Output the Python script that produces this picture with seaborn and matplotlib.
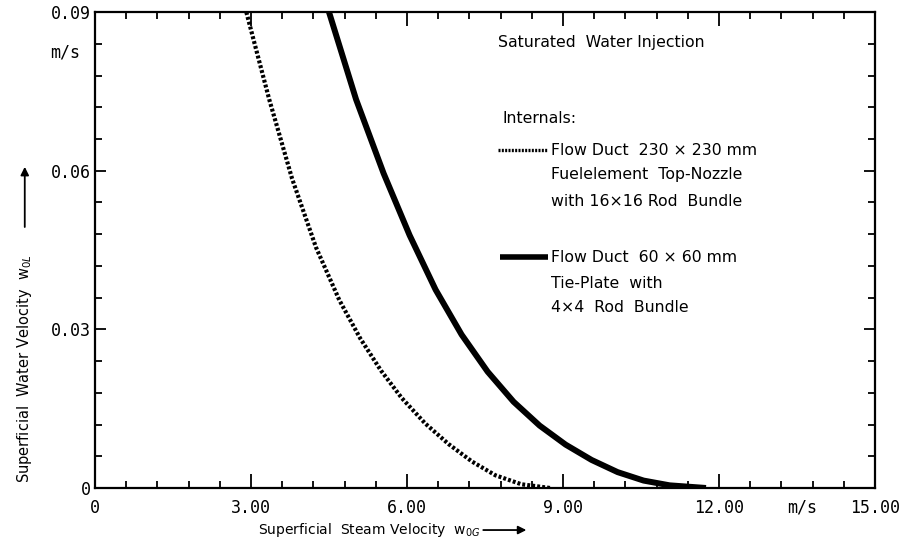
import numpy as np
import pandas as pd
import seaborn as sns
import matplotlib
matplotlib.use("Agg")
import matplotlib.pyplot as plt
from matplotlib.ticker import FixedLocator, FixedFormatter, MultipleLocator

# curves: steam velocity (m/s) vs water velocity (m/s)
dotted_x = [2.91, 3.35, 3.79, 4.25, 4.70, 5.10, 5.50, 5.90, 6.35, 6.80, 7.25, 7.70, 8.20, 8.75]
dotted_y = [0.090, 0.0735, 0.0585, 0.0455, 0.0355, 0.0283, 0.0222, 0.0170, 0.0122, 0.0083, 0.0050, 0.0024, 0.0007, 0.0]

solid_x = [4.50, 5.02, 5.55, 6.05, 6.55, 7.05, 7.55, 8.05, 8.55, 9.05, 9.55, 10.05, 10.55, 11.05, 11.75]
solid_y = [0.090, 0.0735, 0.0595, 0.0478, 0.0375, 0.0290, 0.0220, 0.0163, 0.0118, 0.0082, 0.0053, 0.0030, 0.0014, 0.0005, 0.0]

x_ticks = [0, 3, 6, 9, 12, 15]
x_tick_labels = ["0", "3.00", "6.00", "9.00", "12.00", "15.00"]
y_ticks = [0, 0.03, 0.06, 0.09]
y_tick_labels = ["0", "0.03", "0.06", "0.09"]

legend_dotted = ["Flow Duct  230 \u00d7 230 mm", "Fuelelement  Top-Nozzle", "with 16\u00d716 Rod  Bundle"]
legend_solid = ["Flow Duct  60 \u00d7 60 mm", "Tie-Plate  with", "4\u00d74  Rod  Bundle"]

sns.set_style("ticks")
plt.rcParams['font.family'] = ['DejaVu Sans']
plt.rcParams['mathtext.fontset'] = 'dejavusans'
plt.rcParams['text.color'] = 'black'

fig = plt.figure(figsize=(9.17, 5.47), dpi=100)
ax = fig.add_axes([0.1036, 0.1079, 0.8506, 0.870])

sns.lineplot(x=dotted_x, y=dotted_y, ax=ax, color="black", lw=3.0,
             linestyle=(0, (0.7, 0.5)), sort=False)
sns.lineplot(x=solid_x, y=solid_y, ax=ax, color="black", lw=4.3,
             sort=False, solid_capstyle="butt")

ax.set_xlim(0, 15)
ax.set_ylim(0, 0.09)

mono = "DejaVu Sans Mono"
ax.xaxis.set_major_locator(FixedLocator(x_ticks))
ax.xaxis.set_major_formatter(FixedFormatter(x_tick_labels))
ax.xaxis.set_minor_locator(MultipleLocator(0.6))
ax.yaxis.set_major_locator(FixedLocator(y_ticks))
ax.yaxis.set_major_formatter(FixedFormatter(y_tick_labels))
ax.yaxis.set_minor_locator(MultipleLocator(0.006))

ax.tick_params(which="both", direction="in", top=True, right=True, width=1.3,
               color="black", labelcolor="black")
ax.tick_params(axis="x", which="major", length=10, pad=8)
ax.tick_params(axis="x", which="minor", length=5)
ax.tick_params(axis="y", which="major", length=8, pad=3)
ax.tick_params(axis="y", which="minor", length=5)
for lab in ax.get_xticklabels() + ax.get_yticklabels():
    lab.set_fontfamily(mono)
    lab.set_fontsize(12)

for sp in ax.spines.values():
    sp.set_linewidth(1.6)
    sp.set_color("black")

# unit labels
ax.text(13.6, -0.0036, "m/s", ha="center", va="center", fontsize=12, family=mono)
ax.text(-0.038, 0.0824, "m/s", transform=ax.get_yaxis_transform(), ha="center", va="center",
        fontsize=12, family=mono)

# annotations / legend
fs = 11.3
ax.text(0.517, 0.937, "Saturated  Water Injection", transform=ax.transAxes, fontsize=fs, va="center")
ax.text(0.523, 0.777, "Internals:", transform=ax.transAxes, fontsize=fs, va="center")
ax.plot([0.517, 0.581], [0.710, 0.710], transform=ax.transAxes, color="black", lw=2.4,
        linestyle=(0, (0.6, 0.4)))
ax.plot([0.519, 0.581], [0.485, 0.485], transform=ax.transAxes, color="black", lw=4.0,
        solid_capstyle="butt")
for txt, yy in zip(legend_dotted, [0.710, 0.658, 0.603]):
    ax.text(0.585, yy, txt, transform=ax.transAxes, fontsize=fs, va="center")
for txt, yy in zip(legend_solid, [0.485, 0.429, 0.380]):
    ax.text(0.585, yy, txt, transform=ax.transAxes, fontsize=fs, va="center")

# axis labels with arrows
fig.text(0.281, 0.031, "Superficial  Steam Velocity  w$_{0G}$", ha="left", va="center", fontsize=10)
fig.add_artist(plt.Annotation("", xy=(0.574, 0.031), xytext=(0.527, 0.031),
                              xycoords="figure fraction",
                              arrowprops=dict(arrowstyle="-|>", color="black", lw=1.3,
                                              mutation_scale=12, shrinkA=0, shrinkB=0)))
fig.text(0.027, 0.117, "Superficial  Water Velocity  w$_{0L}$", rotation=90, ha="center",
         va="bottom", fontsize=10.5)
fig.add_artist(plt.Annotation("", xy=(0.027, 0.695), xytext=(0.027, 0.585),
                              xycoords="figure fraction",
                              arrowprops=dict(arrowstyle="-|>", color="black", lw=1.3,
                                              mutation_scale=12, shrinkA=0, shrinkB=0)))

fig.savefig("out.png", dpi=100)
